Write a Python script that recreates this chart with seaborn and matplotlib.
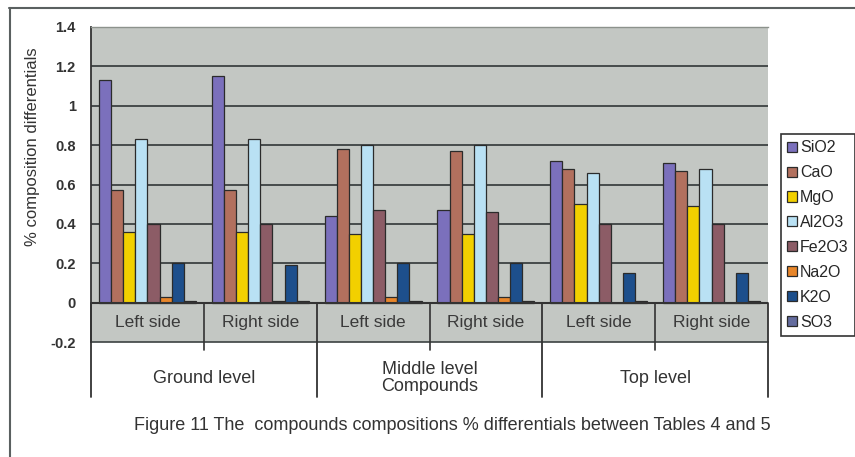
import matplotlib
matplotlib.use("Agg")
import matplotlib.pyplot as plt
from matplotlib.lines import Line2D
import pandas as pd
import seaborn as sns

# Compound differentials (%) for each building level and side
levels = ["Ground level", "Middle level\nCompounds", "Top level"]
sides = ["Left side", "Right side"]
compounds = ["SiO2", "CaO", "MgO", "Al2O3", "Fe2O3", "Na2O", "K2O", "SO3"]

sio2 = [1.13, 1.15, 0.44, 0.47, 0.72, 0.71]
cao = [0.57, 0.57, 0.78, 0.77, 0.68, 0.67]
mgo = [0.36, 0.36, 0.35, 0.35, 0.50, 0.49]
al2o3 = [0.83, 0.83, 0.80, 0.80, 0.66, 0.68]
fe2o3 = [0.40, 0.40, 0.47, 0.46, 0.40, 0.40]
na2o = [0.03, 0.01, 0.03, 0.03, 0.00, 0.00]
k2o = [0.20, 0.19, 0.20, 0.20, 0.15, 0.15]
so3 = [0.01, 0.01, 0.01, 0.01, 0.01, 0.01]

y_ticks = [-0.2, 0, 0.2, 0.4, 0.6, 0.8, 1, 1.2, 1.4]
y_tick_labels = ["-0.2", "0", "0.2", "0.4", "0.6", "0.8", "1", "1.2", "1.4"]

series = [sio2, cao, mgo, al2o3, fe2o3, na2o, k2o, so3]
positions = [f"{lv}|{sd}" for lv in levels for sd in sides]
rows = []
for comp, vals in zip(compounds, series):
    for pos, v in zip(positions, vals):
        rows.append({"position": pos, "compound": comp, "value": v})
df = pd.DataFrame(rows)

colors = ["#7b70bc", "#b2705e", "#f2d000", "#b9e1f4",
          "#8c5c66", "#e8862a", "#1d4f8c", "#646c9e"]

sns.set_theme(style="white")
plt.rcParams["font.family"] = ["Liberation Sans", "DejaVu Sans"]

fig = plt.figure(figsize=(8.55, 4.57), dpi=100)
ax = fig.add_axes([91 / 855, 1 - 342 / 457, (768 - 91) / 855, (342 - 27) / 457])
ax.set_facecolor("#c3c7c3")

sns.barplot(data=df, x="position", y="value", hue="compound",
            order=positions, hue_order=compounds, palette=colors,
            saturation=1, width=0.86, edgecolor="#2b2b2b", linewidth=0.9,
            ax=ax, zorder=3)

ax.set_xlim(-0.5, 5.5)
ax.set_ylim(-0.2, 1.4)
ax.set_yticks(y_ticks)
ax.set_yticklabels(y_tick_labels, fontsize=10.5, fontweight="bold", color="#333333")
ax.tick_params(axis="y", direction="out", length=5, width=1.2, color="#333333", pad=6)
ax.set_xticks([])
ax.set_xlabel("")
ax.set_ylabel("")
fig.text(33 / 855, 1 - 147 / 457, "% composition differentials", rotation=90,
         ha="center", va="center", fontsize=12, color="#333333")

# horizontal gridlines
for yv in [0.2, 0.4, 0.6, 0.8, 1.0, 1.2]:
    ax.axhline(yv, color="#3c4242", lw=1.3, zorder=1)
ax.axhline(0, color="#333333", lw=1.5, zorder=4)

ax.spines["right"].set_visible(False)
ax.spines["top"].set_color("#8c928c")
ax.spines["top"].set_linewidth(1.0)
ax.spines["bottom"].set_color("#3c4242")
ax.spines["bottom"].set_linewidth(1.2)
ax.spines["left"].set_color("#333333")
ax.spines["left"].set_linewidth(1.3)

# multi-level category axis
for i, pos in enumerate(positions):
    ax.text(i, -0.1, pos.split("|")[1], ha="center", va="center",
            fontsize=12.5, color="#3a3a3a", zorder=5)
for g, lv in enumerate(levels):
    ax.text(2 * g + 0.5, -0.385, lv, ha="center", va="center",
            fontsize=13, color="#333333", linespacing=1.0)
for b in range(7):
    xb = b - 0.5
    if b % 2 == 1:
        ax.plot([xb, xb], [0, -0.24], color="#333333", lw=1.2, clip_on=False, zorder=4)
    else:
        ax.plot([xb, xb], [0, -0.478], color="#333333", lw=1.3, clip_on=False, zorder=4)

# legend
handles, labels = ax.get_legend_handles_labels()
ax.legend(handles, labels, loc="center left",
          bbox_to_anchor=(781 / 855, 1 - 235 / 457), bbox_transform=fig.transFigure,
          frameon=True, fancybox=False, edgecolor="#333333", framealpha=1,
          handlelength=0.6, handleheight=0.6, handletextpad=0.2,
          labelspacing=0.62, fontsize=11.5, borderpad=0.4, borderaxespad=0)
ax.get_legend().get_frame().set_linewidth(1.2)

# caption and outer frame
fig.text(452 / 855, 1 - 425 / 457,
         "Figure 11 The  compounds compositions % differentials between Tables 4 and 5",
         ha="center", va="center", fontsize=13, color="#333333")
fig.add_artist(Line2D([9 / 855, 1], [1 - 8 / 457, 1 - 8 / 457],
                      transform=fig.transFigure, color="#5a6060", lw=1.5))
fig.add_artist(Line2D([10 / 855, 10 / 855], [0, 1 - 8 / 457],
                      transform=fig.transFigure, color="#5a6060", lw=1.5))

fig.savefig("out.png", dpi=100)
